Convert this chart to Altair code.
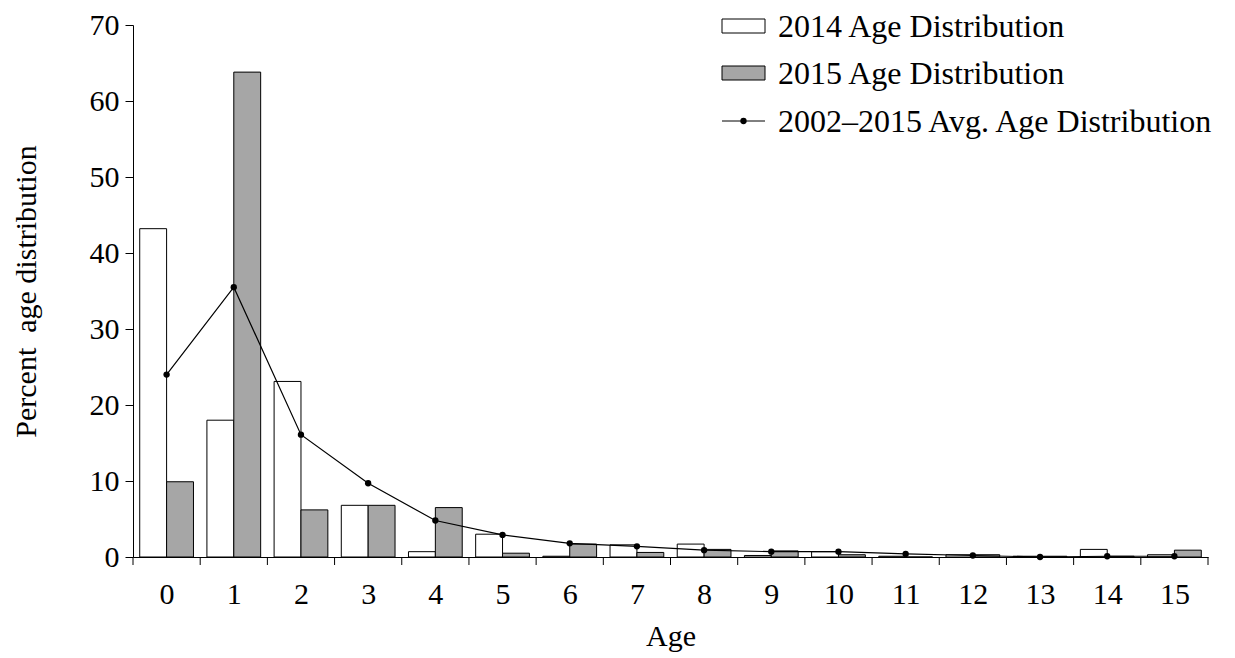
import pandas as pd
import altair as alt

ages = list(range(16))
dist_2014 = [43.2, 18.0, 23.1, 6.8, 0.7, 3.0, 0.1, 1.6, 1.7, 0.2, 0.7, 0.1, 0.3, 0.1, 1.0, 0.3]
dist_2015 = [9.9, 63.8, 6.2, 6.8, 6.5, 0.5, 1.7, 0.6, 1.0, 0.8, 0.3, 0.0, 0.3, 0.1, 0.1, 0.9]
avg_dist = [24.0, 35.5, 16.1, 9.7, 4.8, 2.9, 1.8, 1.4, 0.9, 0.7, 0.7, 0.4, 0.2, 0.0, 0.1, 0.1]
tick_edges = [a - 0.5 for a in range(17)]

FONT = "Liberation Serif"
FS = 30
W, H = 1075, 532

df = pd.DataFrame({"age": ages, "y14": dist_2014, "y15": dist_2015, "avg": avg_dist})
xs = alt.Scale(domain=[-0.5, 15.5], nice=False, zero=False)
ys = alt.Scale(domain=[0, 70], nice=False)

base = alt.Chart(df)
x_axis = alt.Axis(values=ages, format="d", ticks=False, labelFontSize=FS, labelFont=FONT, title="Age",
                  titleFontSize=FS, titleFont=FONT, titleFontWeight="normal", labelPadding=22,
                  domainColor="black", labelColor="black", titleColor="black", grid=False,
                  titlePadding=12)
y_axis = alt.Axis(values=list(range(0, 71, 10)), tickSize=8, tickColor="black", labelFontSize=FS,
                  labelFont=FONT, title="Percent\u00a0 age distribution", titleFontSize=FS, titleFont=FONT,
                  titleFontWeight="normal", domainColor="black", labelColor="black",
                  titleColor="black", grid=False, labelPadding=6, titlePadding=48)

bars14 = base.transform_calculate(x0="datum.age - 0.4", x1="datum.age").mark_rect(
    fill="white", stroke="black", strokeWidth=1
).encode(
    x=alt.X("x0:Q", scale=xs, axis=x_axis),
    x2="x1:Q",
    y=alt.Y("y14:Q", scale=ys, axis=y_axis),
    y2=alt.datum(0),
)
bars15 = base.transform_calculate(x0="datum.age", x1="datum.age + 0.4").mark_rect(
    fill="#a6a6a6", stroke="black", strokeWidth=1
).encode(x=alt.X("x0:Q", scale=xs), x2="x1:Q", y=alt.Y("y15:Q", scale=ys), y2=alt.datum(0))
line = base.mark_line(color="black", strokeWidth=1.2).encode(
    x=alt.X("age:Q", scale=xs), y=alt.Y("avg:Q", scale=ys))
pts = base.mark_circle(color="black", size=40, opacity=1).encode(
    x=alt.X("age:Q", scale=xs), y=alt.Y("avg:Q", scale=ys))

ticks = alt.Chart(pd.DataFrame({"e": tick_edges})).mark_rule(color="black").encode(
    x=alt.X("e:Q", scale=xs), y=alt.value(H), y2=alt.value(H + 8))

# legend
leg = alt.Chart(pd.DataFrame({"d": [0]}))
lx0, lx1 = 589, 632
leg_r1 = leg.mark_rect(fill="white", stroke="black").encode(
    x=alt.value(lx0), x2=alt.value(lx1), y=alt.value(-6), y2=alt.value(8))
leg_r2 = leg.mark_rect(fill="#a6a6a6", stroke="black").encode(
    x=alt.value(lx0), x2=alt.value(lx1), y=alt.value(41), y2=alt.value(55))
leg_l = leg.mark_rule(color="black").encode(
    x=alt.value(lx0), x2=alt.value(lx1), y=alt.value(96))
leg_p = leg.mark_circle(color="black", size=40, opacity=1).encode(
    x=alt.value((lx0 + lx1) / 2), y=alt.value(96))
labels = ["2014 Age Distribution", "2015 Age Distribution", "2002\u20132015 Avg. Age Distribution"]
leg_t = [leg.mark_text(font=FONT, fontSize=32, align="left", baseline="middle", color="black",
                       text=t).encode(x=alt.value(645), y=alt.value(yy))
         for t, yy in zip(labels, [2, 49, 97])]

chart = alt.layer(bars14, bars15, line, pts, ticks, leg_r1, leg_r2, leg_l, leg_p, *leg_t).properties(
    width=W, height=H, background="white",
    autosize=alt.AutoSizeParams(type="none"),
    padding={"left": 125, "top": 17, "right": 10, "bottom": 100},
).configure_view(stroke=None)

chart.save("out.html", embed_options={"renderer": "svg", "actions": False})
